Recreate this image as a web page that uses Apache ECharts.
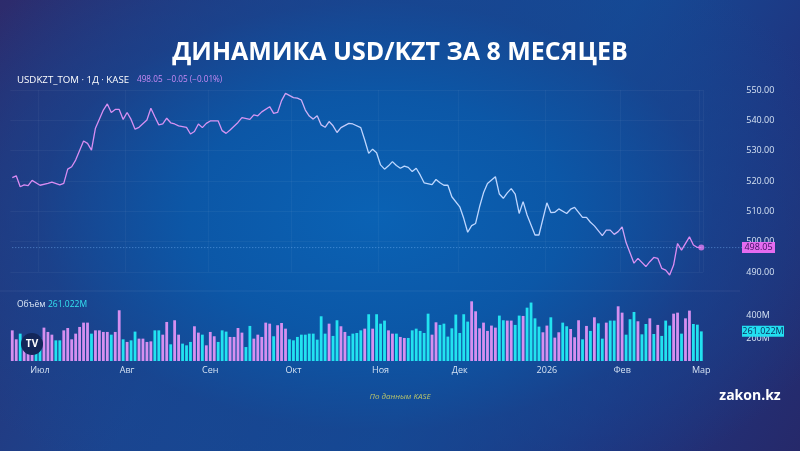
<!DOCTYPE html>
<html><head><meta charset="utf-8">
<script src="https://cdn.jsdelivr.net/npm/echarts@6/dist/echarts.min.js"></script>
<style>
html,body{margin:0;padding:0;width:800px;height:451px;overflow:hidden;background:#1a3f88;}
#bg{position:absolute;left:0;top:0;width:800px;height:451px;
background:
 radial-gradient(ellipse 62% 70% at 47% 48%, rgba(10,98,180,1) 0%, rgba(11,88,168,0.95) 38%, rgba(22,70,145,0.6) 68%, rgba(35,45,115,0) 100%),
 linear-gradient(120deg, #2d2b6c 0%, #1b4590 35%, #154a96 60%, #1f3580 80%, #26296a 100%);}
#chart{position:absolute;left:0;top:0;width:800px;height:451px;}
</style></head><body>
<div id="bg"></div><div id="chart"></div>
<script>
// ---- data ----
const title = 'ДИНАМИКА USD/KZT ЗА 8 МЕСЯЦЕВ';
const symbolText = 'USDKZT_TOM · 1Д · KASE';
const quoteText = '498.05  −0.05 (−0.01%)';
const lastPrice = 498.05;
const lastVolume = 261.022;
const monthStarts = [7, 29, 50, 71, 93, 113, 135, 154, 174];
const monthNames = ['Июл', 'Авг', 'Сен', 'Окт', 'Ноя', 'Дек', '2026', 'Фев', 'Мар'];
const priceTicks = [490, 500, 510, 520, 530, 540, 550];
const volumeTicks = [200, 400];
// daily close (null = not read, line is connected across)
const price = [
521.1,521.7,518.1,518.7,518.5,520.2,null,518.6,null,519.2,
519.6,null,518.7,519.2,523.9,524.7,526.9,null,533.2,532.4,
530.2,537.4,null,543.4,545.4,542.6,543.6,543.6,540.3,542.6,
540.3,537.1,537.7,null,540.1,544.0,541.2,538.5,538.8,540.7,
539.2,538.8,538.2,null,537.7,535.5,536.3,538.8,537.6,539.0,
539.8,null,539.8,536.6,535.7,536.8,null,539.3,540.9,null,
540.3,541.8,541.5,542.8,null,544.5,542.3,542.6,546.5,548.9,
null,547.5,547.3,546.7,543.4,541.4,540.4,541.5,538.5,537.7,
539.6,538.2,536.0,537.6,null,539.0,538.8,null,537.6,533.5,
529.1,530.5,529.3,525.3,523.9,525.0,526.4,525.1,524.2,524.9,
524.5,523.1,524.2,522.0,519.4,null,518.8,520.5,519.4,518.6,
518.6,514.8,null,511.5,507.7,503.1,505.3,506.0,511.5,516.1,
519.2,null,521.4,515.7,514.3,516.1,517.5,515.7,509.3,513.2,
508.8,null,502.2,502.2,null,512.8,509.6,509.7,510.8,null,
509.3,510.7,511.3,null,508.0,508.0,506.4,505.2,null,502.0,
503.8,503.8,502.4,503.3,504.9,499.7,null,492.9,494.5,null,
491.8,493.4,494.8,494.5,491.2,490.6,489.0,492.3,499.4,497.2,
null,501.6,498.9,498.1,498.05
];
// daily volume, millions
const volume = [
270,191,241,180,160,175,150,200,294,256,
232,182,182,270,291,191,241,300,338,338,
241,270,270,256,256,232,256,447,191,168,
182,259,197,197,168,173,270,270,232,344,
147,359,232,153,138,168,306,250,232,138,
256,218,168,270,259,212,212,291,250,123,
309,197,232,212,338,329,218,315,335,285,
191,182,212,232,232,241,241,188,394,241,
329,221,359,306,256,221,241,247,270,285,
412,285,412,329,356,270,241,241,212,203,
203,270,285,265,247,417,232,341,318,329,
215,288,409,247,412,347,526,438,288,338,
265,312,294,400,359,356,356,318,400,397,
470,515,376,303,253,312,385,206,253,338,
306,282,209,359,191,309,265,385,332,197,
338,356,356,482,426,232,368,432,350,235,
326,376,238,318,221,356,312,417,426,241,
376,444,326,320,261.022
];
// 1 = pink (up) bar, 0 = cyan bar
const volUp = [
1,1,0,1,1,1,0,0,1,1,
1,0,0,1,1,1,1,1,1,1,
0,1,1,1,1,0,1,1,0,1,
0,0,1,1,1,1,0,0,1,1,
0,1,1,0,0,0,1,1,0,1,
1,1,0,0,0,1,1,1,1,0,
0,1,1,1,1,1,0,1,1,1,
0,0,0,0,0,0,0,0,0,0,
1,0,0,1,1,0,0,0,0,1,
0,1,0,0,0,1,1,0,1,1,
0,0,0,0,0,0,1,1,0,0,
0,0,0,0,0,0,1,1,1,1,
1,1,1,0,0,1,1,0,0,1,
0,0,0,0,1,1,0,1,1,0,
0,1,1,1,0,1,0,1,0,0,
1,0,0,1,1,0,0,0,1,0,
0,1,0,1,0,0,0,1,1,0,
1,1,0,0,0
];
const days = price.map((_, i) => String(i));

// ---- chart ----
const PINK = '#d58ff0', CYAN = '#22e2f0', AXTXT = '#d5e2f3';
const chart = echarts.init(document.getElementById('chart'));
const lineGrad = new echarts.graphic.LinearGradient(0, 0, 1, 0, [
  {offset: 0, color: '#d98af2'}, {offset: 0.38, color: '#d596f3'},
  {offset: 0.46, color: '#c8c4f8'}, {offset: 0.52, color: '#bcd8ff'},
  {offset: 0.84, color: '#bfd5ff'}, {offset: 0.9, color: '#d890f2'},
  {offset: 1, color: '#de88f2'}]);
const isMonth = (i) => monthStarts.indexOf(i) >= 0;
chart.setOption({
  backgroundColor: 'transparent',
  animation: false,
  grid: [
    {left: 10.3, width: 693, top: 90, height: 182},
    {left: 10.3, width: 693, top: 292.9, height: 68.1}
  ],
  xAxis: [
    {type: 'category', gridIndex: 0, data: days, boundaryGap: true,
     axisLine: {show: false}, axisTick: {show: false}, axisLabel: {show: false},
     splitLine: {show: true, interval: (i) => isMonth(i), lineStyle: {color: 'rgba(255,255,255,0.04)'}}},
    {type: 'category', gridIndex: 1, data: days, boundaryGap: true,
     axisLine: {show: false}, axisTick: {show: false},
     axisLabel: {interval: (i) => isMonth(i), formatter: (v, i) => monthNames[monthStarts.indexOf(+v)] || '',
       color: AXTXT, fontSize: 9, margin: 5, fontFamily: 'Open Sans'},
     splitLine: {show: false}}
  ],
  yAxis: [
    {type: 'value', gridIndex: 0, position: 'right', min: priceTicks[0], max: priceTicks[priceTicks.length - 1], interval: 10,
     axisLine: {show: false}, axisTick: {show: false},
     axisLabel: {color: AXTXT, fontSize: 9, margin: 43, fontFamily: 'Open Sans', formatter: (v) => v.toFixed(2)},
     splitLine: {lineStyle: {color: 'rgba(255,255,255,0.045)'}}},
    {type: 'value', gridIndex: 1, position: 'right', min: 0, max: 600, interval: 200,
     axisLine: {show: false}, axisTick: {show: false},
     axisLabel: {color: AXTXT, fontSize: 9, margin: 43, fontFamily: 'Open Sans',
       formatter: (v) => volumeTicks.indexOf(v) >= 0 ? v + 'M' : ''},
     splitLine: {show: false}}
  ],
  series: [
    {type: 'line', xAxisIndex: 0, yAxisIndex: 0, data: price, connectNulls: true,
     symbol: 'none', clip: false, lineStyle: {width: 1.3, color: lineGrad}, z: 5},
    {type: 'scatter', xAxisIndex: 0, yAxisIndex: 0, data: [[days[days.length - 1], lastPrice]],
     symbolSize: 6, itemStyle: {color: '#e07cf0'}, z: 6},
    {type: 'bar', xAxisIndex: 1, yAxisIndex: 1, barWidth: 2.8,
     data: volume.map((v, i) => ({value: v, itemStyle: {color: volUp[i] ? PINK : CYAN}}))}
  ]
});

const yP = chart.convertToPixel({yAxisIndex: 0}, lastPrice);
const yV = chart.convertToPixel({yAxisIndex: 1}, lastVolume);
const xL = chart.convertToPixel({xAxisIndex: 0}, days[0]);
chart.setOption({
  graphic: [
    {type: 'text', x: 400, y: 53, style: {text: title, fill: '#ffffff', font: 'bold 25px "Open Sans"', align: 'center', verticalAlign: 'middle'}},
    {type: 'text', x: 17, y: 80, style: {text: symbolText, fill: '#ffffff', font: '500 9.7px "Open Sans"', verticalAlign: 'middle'}},
    {type: 'text', x: 137, y: 80, style: {text: quoteText, fill: '#c98af5', font: '8.2px "Open Sans"', verticalAlign: 'middle'}},
    {type: 'line', shape: {x1: xL, y1: yP, x2: 742, y2: yP}, style: {stroke: 'rgba(130,190,255,0.55)', lineWidth: 1, lineDash: [1, 2]}, z: 1},
    {type: 'rect', shape: {x: 742, y: yP - 5.5, width: 33, height: 11}, style: {fill: '#e46cf0'}, z: 10},
    {type: 'text', x: 758.5, y: yP, style: {text: lastPrice.toFixed(2), fill: '#3b0f5e', font: '9px "Open Sans"', align: 'center', verticalAlign: 'middle'}, z: 11},
    {type: 'line', shape: {x1: 0, y1: 291, x2: 740, y2: 291}, style: {stroke: 'rgba(255,255,255,0.07)', lineWidth: 1}},
    {type: 'text', x: 17, y: 305, style: {text: 'Объём', fill: '#dde8f6', font: '8.5px "Open Sans"', verticalAlign: 'middle'}},
    {type: 'text', x: 48, y: 305, style: {text: lastVolume.toFixed(3) + 'M', fill: '#35e3f0', font: '8.5px "Open Sans"', verticalAlign: 'middle'}},
    {type: 'rect', shape: {x: 742, y: yV - 5.5, width: 42, height: 11}, style: {fill: '#22dff0'}, z: 10},
    {type: 'text', x: 763, y: yV, style: {text: lastVolume.toFixed(3) + 'M', fill: '#0b2a5a', font: '9px "Open Sans"', align: 'center', verticalAlign: 'middle'}, z: 11},
    {type: 'circle', shape: {cx: 32, cy: 344, r: 11}, style: {fill: '#13275a'}, z: 20},
    {type: 'text', x: 32, y: 344, style: {text: 'TV', fill: '#ffffff', font: 'bold 10px "Open Sans"', align: 'center', verticalAlign: 'middle'}, z: 21},
    {type: 'text', x: 400, y: 397, style: {text: 'По данным KASE', fill: '#b8c46c', font: 'italic 8px "Open Sans"', align: 'center', verticalAlign: 'middle'}},
    {type: 'text', x: 750, y: 396, style: {text: 'zakon.kz', fill: '#ffffff', font: 'bold 14px "Open Sans"', align: 'center', verticalAlign: 'middle'}}
  ]
});
</script></body></html>
